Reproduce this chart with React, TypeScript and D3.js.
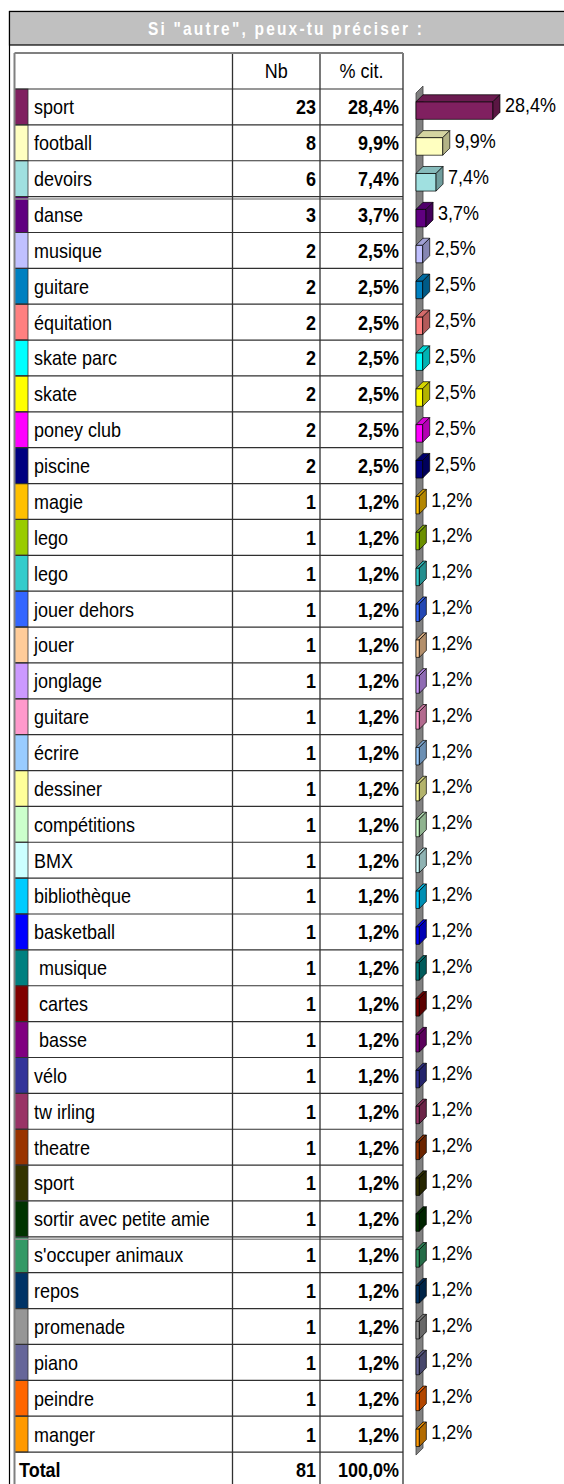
import React from 'react';
import * as d3 from 'd3';

// answers, in table order
const NAMES = [
  'sport', 'football', 'devoirs', 'danse', 'musique', 'guitare', 'équitation',
  'skate parc', 'skate', 'poney club', 'piscine', 'magie', 'lego', 'lego',
  'jouer dehors', 'jouer', 'jonglage', 'guitare', 'écrire', 'dessiner',
  'compétitions', 'BMX', 'bibliothèque', 'basketball', ' musique', ' cartes',
  ' basse', 'vélo', 'tw irling', 'theatre', 'sport', 'sortir avec petite amie',
  "s'occuper animaux", 'repos', 'promenade', 'piano', 'peindre', 'manger',
];

const COUNTS = [
  23, 8, 6, 3, 2, 2, 2, 2, 2, 2, 2,
  1, 1, 1, 1, 1, 1, 1, 1, 1, 1, 1, 1, 1, 1, 1, 1, 1, 1, 1, 1, 1, 1, 1, 1, 1, 1, 1,
];

const COLORS = [
  '#802060', '#ffffc0', '#a0e0e0', '#600080', '#c0c0ff', '#0080c0', '#ff8080',
  '#00ffff', '#ffff00', '#ff00ff', '#000080', '#ffc000', '#99cc00', '#33cccc',
  '#3366ff', '#ffcc99', '#cc99ff', '#ff99cc', '#99ccff', '#ffff99', '#ccffcc',
  '#ccffff', '#00ccff', '#0000ff', '#008080', '#800000', '#800080', '#333399',
  '#993366', '#993300', '#333300', '#003300', '#339966', '#003366', '#969696',
  '#666699', '#ff6600', '#ff9900',
];

const TITLE = 'Si "autre", peux-tu préciser :';
const HEADERS = ['Nb', '% cit.'];
const TOTAL_LABEL = 'Total';

// rows that carry a page-break double rule underneath
const BREAK_AFTER = [2, 31];

const SY = 1.15; // the picture is a little stretched vertically
const FS = 18;
const FONT = "'Liberation Sans', Arial, sans-serif";
const BASE = 7.4; // baseline offset from the row centre

const fmtPct = (v: number) => v.toFixed(1).replace('.', ',') + '%';

function Txt({ x, y, anchor = 'start', bold = false, size = FS, fill = '#000', ls = 0, children }: any) {
  return (
    <text
      transform={`translate(${x},${y}) scale(1,${SY})`}
      textAnchor={anchor}
      fontWeight={bold ? 'bold' : 'normal'}
      fontSize={size}
      fill={fill}
      letterSpacing={ls}
      fontFamily={FONT}
      style={{ whiteSpace: 'pre' }}
    >
      {children}
    </text>
  );
}

export default function App() {
  const n = NAMES.length;
  const total = d3.sum(COUNTS);
  const pcts = COUNTS.map((c) => (c / total) * 100);

  // table geometry
  const left = 14.5, colSw = 28, colNb = 232.5, colPct = 320, right = 403;
  const tableTop = 53, row0 = 89, pitch = 35.87;

  const y = d3.scaleBand<number>()
    .domain(d3.range(n))
    .range([row0, row0 + n * pitch]);
  const rowsEnd = row0 + n * pitch;
  const totalBottom = rowsEnd + pitch;

  // bar geometry
  const barX = 416, depth = 7;
  const x = d3.scaleLinear().domain([0, 100]).range([0, 271]);

  const wallTop = row0 - 3, wallBot = rowsEnd - 4;

  const lineColor = '#303030';

  return (
    <svg
      width={564}
      height={1484}
      style={{ position: 'absolute', left: 0, top: 0, background: '#fff' }}
    >
      <rect x={0} y={0} width={564} height={1484} fill="#fff" />
      {/* outer frame and title band */}
      <rect x={9.5} y={11.5} width={700} height={1600} fill="none" stroke="#000" strokeWidth={1.2} />
      <rect x={9.5} y={11.5} width={700} height={33.5} fill="#c0c0c0" stroke="#000" strokeWidth={1.2} />
      <Txt x={286} y={34.5} anchor="middle" bold size={15.5} fill="#fff" ls={2.2}>{TITLE}</Txt>

      {/* header row */}
      <Txt x={(colNb + colPct) / 2} y={tableTop + (row0 - tableTop) / 2 + BASE} anchor="middle">{HEADERS[0]}</Txt>
      <Txt x={(colPct + right) / 2} y={tableTop + (row0 - tableTop) / 2 + BASE} anchor="middle">{HEADERS[1]}</Txt>

      {/* rows */}
      {NAMES.map((name, i) => {
        const top = y(i)!;
        const cy = top + pitch / 2;
        return (
          <g key={i}>
            <rect x={left} y={top} width={colSw - left} height={pitch} fill={COLORS[i]} stroke={lineColor} strokeWidth={0.8} />
            <Txt x={34} y={cy + BASE}>{name}</Txt>
            <Txt x={colPct - 4} y={cy + BASE} anchor="end" bold>{COUNTS[i]}</Txt>
            <Txt x={right - 4} y={cy + BASE} anchor="end" bold>{fmtPct(pcts[i])}</Txt>
          </g>
        );
      })}

      {/* total row */}
      <Txt x={19} y={rowsEnd + pitch / 2 + BASE} bold>{TOTAL_LABEL}</Txt>
      <Txt x={colPct - 4} y={rowsEnd + pitch / 2 + BASE} anchor="end" bold>{total}</Txt>
      <Txt x={right - 4} y={rowsEnd + pitch / 2 + BASE} anchor="end" bold>{fmtPct(100)}</Txt>

      {/* grid lines */}
      {d3.range(n + 1).map((i) => (
        <line key={'h' + i} x1={left} x2={right} y1={row0 + i * pitch} y2={row0 + i * pitch} stroke={lineColor} strokeWidth={1.2} />
      ))}
      {BREAK_AFTER.map((i) => (
        <line key={'b' + i} x1={left} x2={right} y1={y(i)! + pitch + 2.5} y2={y(i)! + pitch + 2.5} stroke="#909090" strokeWidth={1.5} />
      ))}
      {[colNb, colPct, right].map((cx) => (
        <line key={'v' + cx} x1={cx} x2={cx} y1={tableTop} y2={totalBottom} stroke={lineColor} strokeWidth={1.3} />
      ))}
      <line x1={left} x2={right} y1={tableTop} y2={tableTop} stroke="#808080" strokeWidth={2} />
      <line x1={left} x2={left} y1={tableTop} y2={totalBottom} stroke="#808080" strokeWidth={2} />

      {/* 3D wall */}
      <polygon
        points={`${barX},${wallTop + depth} ${barX + depth},${wallTop} ${barX + depth},${wallBot} ${barX},${wallBot + depth}`}
        fill="#808080"
        stroke="#404040"
        strokeWidth={0.8}
      />

      {/* 3D bars */}
      {pcts.map((p, i) => {
        const cy = y(i)! + pitch / 2;
        const x0 = barX, x1 = barX + x(p);
        const yT = cy - 5.2, yB = cy + 12.4;
        const c = d3.color(COLORS[i])!;
        const topC = c.darker(0.5).formatHex();
        const sideC = c.darker(1).formatHex();
        return (
          <g key={'bar' + i} stroke="#000" strokeWidth={0.7} strokeLinejoin="round">
            <rect x={x0} y={yT} width={x1 - x0} height={yB - yT} fill={COLORS[i]} />
            <polygon points={`${x0},${yT} ${x0 + depth},${yT - depth} ${x1 + depth},${yT - depth} ${x1},${yT}`} fill={topC} />
            <polygon points={`${x1},${yT} ${x1 + depth},${yT - depth} ${x1 + depth},${yB - depth} ${x1},${yB}`} fill={sideC} />
          </g>
        );
      })}
      {pcts.map((p, i) => {
        const cy = y(i)! + pitch / 2;
        return (
          <Txt key={'lab' + i} x={barX + x(p) + depth + 5} y={cy + 5}>{fmtPct(p)}</Txt>
        );
      })}
    </svg>
  );
}
